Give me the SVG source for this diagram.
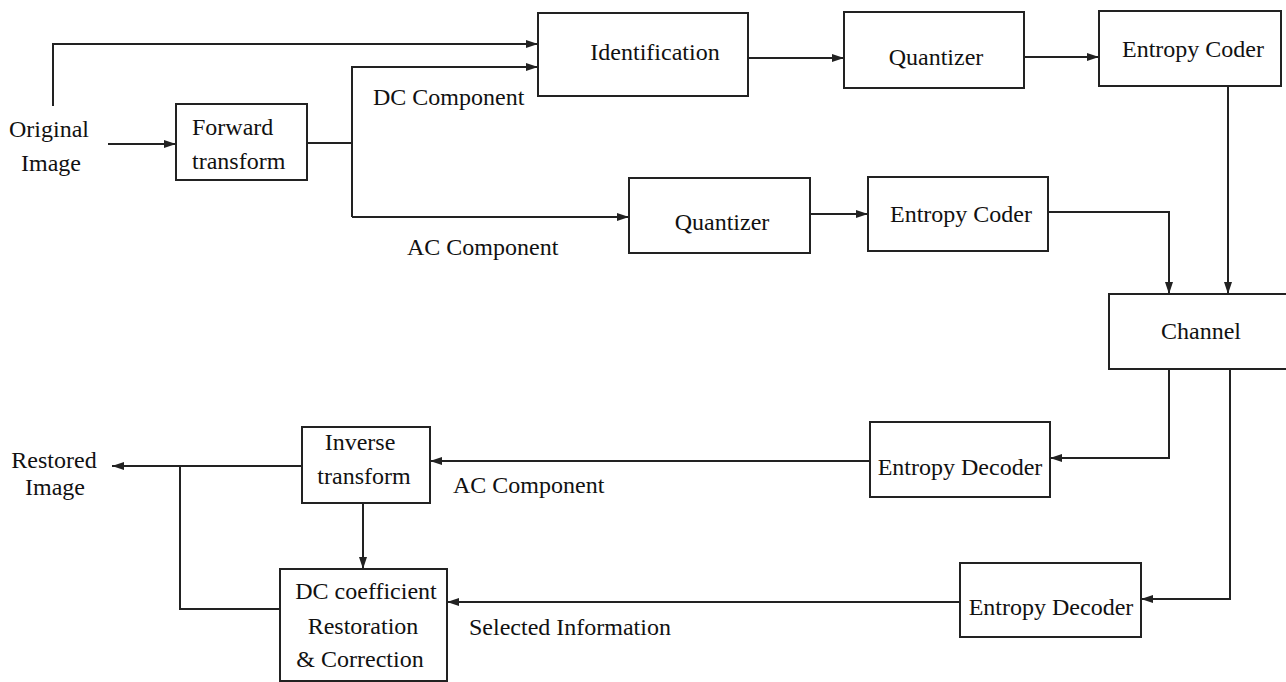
<svg xmlns="http://www.w3.org/2000/svg" width="1286" height="682" viewBox="0 0 1286 682">
<defs>
<style>
.box{fill:#fff;stroke:#222;stroke-width:2}
.ln{fill:none;stroke:#222;stroke-width:2}
text{font-family:"Liberation Serif","Times New Roman",serif;font-size:24px;fill:#111}
.m{text-anchor:middle}
</style>
<marker id="ah" viewBox="0 0 12 8" refX="12" refY="4" markerWidth="12" markerHeight="8" markerUnits="userSpaceOnUse" orient="auto">
<path d="M0,0 L12,4 L0,8 Z" fill="#222"/>
</marker>
</defs>
<rect width="1286" height="682" fill="#fff"/>
<g id="connectors">
<path class="ln" d="M53,106 V44 H538" marker-end="url(#ah)"/>
<path class="ln" d="M108,144 H176" marker-end="url(#ah)"/>
<path class="ln" d="M307,143 H352"/>
<path class="ln" d="M352,217 V67 H538" marker-end="url(#ah)"/>
<path class="ln" d="M352,217 H629" marker-end="url(#ah)"/>
<path class="ln" d="M748,58 H844" marker-end="url(#ah)"/>
<path class="ln" d="M1024,57 H1099" marker-end="url(#ah)"/>
<path class="ln" d="M810,214 H868" marker-end="url(#ah)"/>
<path class="ln" d="M1048,212 H1169 V294" marker-end="url(#ah)"/>
<path class="ln" d="M1228,86 V294" marker-end="url(#ah)"/>
<path class="ln" d="M1169,369 V458 H1050" marker-end="url(#ah)"/>
<path class="ln" d="M1230,369 V599 H1141" marker-end="url(#ah)"/>
<path class="ln" d="M870,461 H430" marker-end="url(#ah)"/>
<path class="ln" d="M960,602 H447" marker-end="url(#ah)"/>
<path class="ln" d="M302,466 H112" marker-end="url(#ah)"/>
<path class="ln" d="M280,609 H180 V466"/>
<path class="ln" d="M363,503 V569" marker-end="url(#ah)"/>
</g>
<g id="original-image">
<text class="m" x="49" y="137">Original</text>
<text class="m" x="51" y="171">Image</text>
</g>
<g id="forward-transform">
<rect class="box" x="176" y="104" width="131" height="76"/>
<text x="192" y="135">Forward</text>
<text x="192" y="169">transform</text>
</g>
<g id="identification">
<rect class="box" x="538" y="13" width="210" height="83"/>
<text class="m" x="655" y="60">Identification</text>
</g>
<g id="quantizer-dc">
<rect class="box" x="844" y="12" width="180" height="76"/>
<text class="m" x="936" y="65">Quantizer</text>
</g>
<g id="entropy-coder-dc">
<rect class="box" x="1099" y="11" width="182" height="75"/>
<text class="m" x="1193" y="57">Entropy Coder</text>
</g>
<g id="quantizer-ac">
<rect class="box" x="629" y="178" width="181" height="75"/>
<text class="m" x="722" y="230">Quantizer</text>
</g>
<g id="entropy-coder-ac">
<rect class="box" x="868" y="177" width="180" height="74"/>
<text class="m" x="961" y="222">Entropy Coder</text>
</g>
<g id="channel">
<rect class="box" x="1109" y="294" width="182" height="75"/>
<text class="m" x="1201" y="339">Channel</text>
</g>
<g id="entropy-decoder-ac">
<rect class="box" x="870" y="422" width="180" height="75"/>
<text class="m" x="960" y="475">Entropy Decoder</text>
</g>
<g id="entropy-decoder-dc">
<rect class="box" x="960" y="563" width="181" height="74"/>
<text class="m" x="1051" y="615">Entropy Decoder</text>
</g>
<g id="inverse-transform">
<rect class="box" x="302" y="427" width="128" height="76"/>
<text class="m" x="360" y="450">Inverse</text>
<text class="m" x="364" y="484">transform</text>
</g>
<g id="dc-restoration">
<rect class="box" x="280" y="569" width="167" height="112"/>
<text class="m" x="366" y="599">DC coefficient</text>
<text class="m" x="363" y="634">Restoration</text>
<text class="m" x="360" y="667">&amp; Correction</text>
</g>
<g id="restored-image">
<text class="m" x="54" y="468">Restored</text>
<text class="m" x="55" y="495">Image</text>
</g>
<g id="labels">
<text x="373" y="105">DC Component</text>
<text x="407" y="255">AC Component</text>
<text x="453" y="493">AC Component</text>
<text x="469" y="635">Selected Information</text>
</g>
</svg>
